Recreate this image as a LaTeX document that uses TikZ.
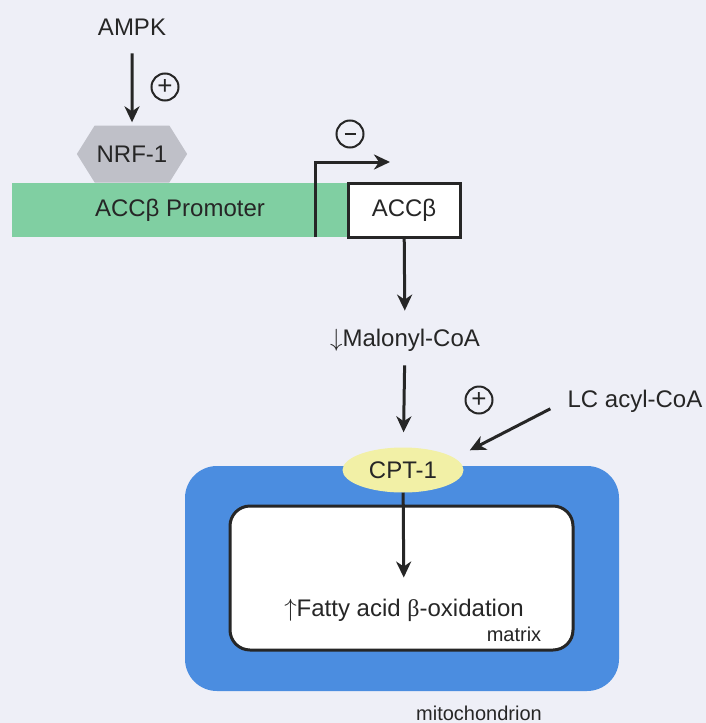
\documentclass[tikz,border=0pt]{standalone}
\usepackage{fontspec}
\setmainfont{Liberation Sans}
\newfontfamily\greekserif{Liberation Serif}
\usetikzlibrary{positioning,shapes.symbols,shapes.geometric,arrows.meta}

\definecolor{bgcol}{HTML}{EEEFF7}
\definecolor{promgreen}{HTML}{80CFA2}
\definecolor{mitoblue}{HTML}{4B8DE0}
\definecolor{cptyellow}{HTML}{F2F0A6}
\definecolor{nrfgray}{HTML}{BFC0C8}
\definecolor{ink}{HTML}{262626}

\begin{document}
\begin{tikzpicture}[x=1pt,y=-1pt,
lbl/.style={font=\fontsize{24}{28}\selectfont, text=ink, inner sep=2pt},
smalllbl/.style={font=\fontsize{20}{24}\selectfont, text=ink, inner sep=2pt},
arr/.style={-{Stealth[length=16pt,width=15pt,inset=5pt]}, draw=ink, line width=3pt},
signnode/.style={circle, draw=ink, line width=2pt, minimum size=27pt, inner sep=0pt, font=\fontsize{26}{26}\selectfont, text=ink},
]

% background and frame
\fill[bgcol] (0,0) rectangle (706,723);
\useasboundingbox (0,0) rectangle (706,723);

% Defining the gene
\node[lbl] (ampk) at (132,27) {AMPK};
\node[lbl, fill=promgreen, minimum width=336pt, minimum height=54pt] (prom) at (180,210) {ACCβ Promoter};
\node[lbl, shape=signal, signal to=east and west, signal pointer angle=116, fill=nrfgray, minimum width=101pt, minimum height=57pt] (nrf) at (132,154) {NRF-1};
\node[lbl, draw=ink, line width=3pt, fill=white, minimum width=112pt, minimum height=54pt] (accbox) at (404,210) {ACCβ};
\coordinate (tss) at (315,237);
\coordinate (tssend) at (390,162);

% Defining the signs
\node[signnode] (plusA) at (165,87) {+};
\node[signnode] (minusA) at (350,134) {\raisebox{1pt}{\rule{11pt}{2pt}}};

% Defining the metabolites
\node[lbl] (malonyl) at (405,340) {$\downarrow$Malonyl-CoA};
\node[lbl] (lcacyl) at (635,401) {LC acyl-CoA};
\node[signnode] (plusB) at (479,400) {+};

% Defining the mitochondrion
\node[fill=mitoblue, rounded corners=32pt, minimum width=434pt, minimum height=225pt] (mito) at (402,578.5) {};
\node[draw=ink, line width=3pt, fill=white, rounded corners=20pt, minimum width=343pt, minimum height=144pt] (matrixbox) at (401.5,578) {};
\node[lbl, ellipse, fill=cptyellow, minimum width=121pt, minimum height=45pt] (cpt) at (403,470) {CPT-1};
\node[lbl] (fatty) at (404,610) {$\uparrow$Fatty acid {\greekserif β}-oxidation};
\node[smalllbl] (matrixlbl) at (514,634) {matrix};
\node[smalllbl] (mitolbl) at (479,713) {mitochondrion};

% Relationships
\draw[arr, shorten <=16pt, shorten >=3pt] (ampk) -- (nrf);
\draw[arr] (tss) |- (tssend);
\draw[arr, shorten >=16pt] (accbox) -- (malonyl);
\draw[arr, shorten <=12pt, shorten >=15pt] (malonyl) -- (cpt);
\draw[arr, shorten <=17pt, shorten >=17pt] (lcacyl.west) -- (cpt.13);
\draw[arr, shorten >=19pt] (cpt) -- (fatty);

\end{tikzpicture}
\end{document}
